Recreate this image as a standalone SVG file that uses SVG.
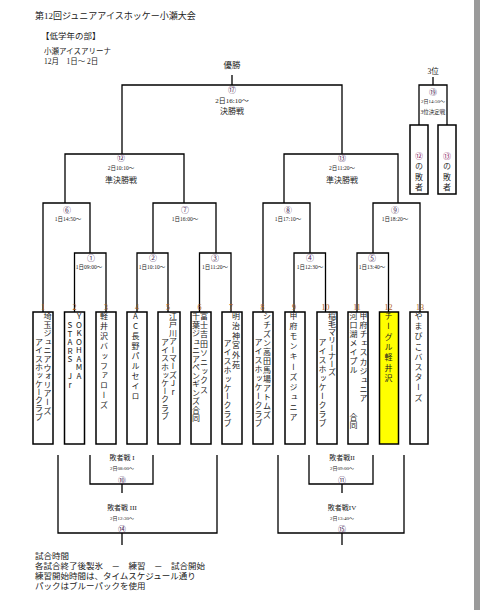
<svg xmlns="http://www.w3.org/2000/svg" width="480" height="610" viewBox="0 0 480 610">
<defs>
<style>
text{font-family:"Liberation Serif","Noto Sans CJK JP",serif;fill:#222}
.c{text-anchor:middle;dominant-baseline:central}
.t{font-size:5.5px}
.n{font-family:"Noto Sans CJK JP",sans-serif;font-size:8px;fill:#4a2a5a}
.lb{font-size:8px}
.num{font-size:8px;fill:#b0601a;text-anchor:middle;dominant-baseline:central}
.v{font-family:"Noto Sans CJK JP","Liberation Serif",sans-serif;font-size:8px;writing-mode:vertical-rl;text-orientation:upright;fill:#222}
.box{fill:#fff;stroke:#000;stroke-width:1.5}
.ln{fill:none;stroke:#000;stroke-width:1.3}
</style>
</defs>
<rect x="0" y="0" width="480" height="610" fill="#fff"/>
<rect x="474" y="0" width="6" height="610" fill="#9a9a9a"/>

<g id="header">
<text x="35" y="16" style="font-size:9px" dominant-baseline="central">第12回ジュニアアイスホッケー小瀬大会</text>
<text x="41" y="36" style="font-size:8.5px" dominant-baseline="central">【低学年の部】</text>
<text x="44" y="51" style="font-size:7.5px" dominant-baseline="central">小瀬アイスアリーナ</text>
<text x="44" y="61" style="font-size:7.5px" dominant-baseline="central">12月　1日～ 2日</text>
<text x="232" y="65" class="c" style="font-size:8.5px">優勝</text>
<text x="433" y="71" class="c" style="font-size:7.5px">3位</text>
</g>

<g id="connectors" class="ln">
<path d="M232,75V85M122,154V85H342V154"/>
<path d="M65,203V154H184V203"/>
<path d="M284,203V154H398V203"/>
<path d="M43,312V203H90V253"/>
<path d="M153,253V203H216V253"/>
<path d="M263,312V203H310V253"/>
<path d="M373,253V203H420V312"/>
<path d="M74.5,312V253H106V312"/>
<path d="M137,312V253H168V312"/>
<path d="M199.5,312V253H231V312"/>
<path d="M294,312V253H325.5V312"/>
<path d="M357,312V253H388.5V312"/>
<path d="M433,77V85M419,125V85H447V125"/>
<path d="M58,455V533H217V455"/>
<path d="M90,455V484H153V455"/>
<path d="M122,484V493M122,533V545"/>
<path d="M278,455V533H404V455"/>
<path d="M309,455V484H373V455"/>
<path d="M342,484V493M342,533V545"/>
</g>

<g id="match17">
<text x="232" y="89" class="c n">⑰</text>
<text x="232" y="101" class="c" style="font-size:7px">2日16:10～</text>
<text x="232" y="111" class="c lb">決勝戦</text>
</g>
<g id="match19">
<text x="433" y="91" class="c n">⑲</text>
<text x="433" y="101" class="c" style="font-size:5px">2日14:50～</text>
<text x="433" y="112" class="c" style="font-size:5.5px">3位決定戦</text>
</g>
<g id="match12">
<text x="121" y="157" class="c n">⑫</text>
<text x="121" y="168" class="c t">2日10:10～</text>
<text x="121" y="180" class="c lb">準決勝戦</text>
</g>
<g id="match13">
<text x="342" y="157" class="c n">⑬</text>
<text x="342" y="168" class="c t">2日11:20～</text>
<text x="342" y="180" class="c lb">準決勝戦</text>
</g>
<g id="match6"><text x="67" y="209" class="c n">⑥</text><text x="68" y="219" class="c t">1日14:50～</text></g>
<g id="match7"><text x="185" y="209" class="c n">⑦</text><text x="185" y="219" class="c t">1日16:00～</text></g>
<g id="match8"><text x="288" y="209" class="c n">⑧</text><text x="288" y="219" class="c t">1日17:10～</text></g>
<g id="match9"><text x="395" y="209" class="c n">⑨</text><text x="395" y="219" class="c t">1日18:20～</text></g>
<g id="match1"><text x="91" y="257" class="c n">①</text><text x="89" y="267" class="c t">1日09:00～</text></g>
<g id="match2"><text x="153" y="257" class="c n">②</text><text x="152" y="267" class="c t">1日10:10～</text></g>
<g id="match3"><text x="215" y="257" class="c n">③</text><text x="215" y="267" class="c t">1日11:20～</text></g>
<g id="match4"><text x="310" y="257" class="c n">④</text><text x="310" y="267" class="c t">1日12:30～</text></g>
<g id="match5"><text x="372" y="257" class="c n">⑤</text><text x="372" y="267" class="c t">1日13:40～</text></g>

<g id="loser12">
<rect x="410" y="125" width="18" height="69" class="box"/>
<text x="419" y="152" class="v" style="letter-spacing:2.3px"><tspan style="fill:#8a2a6a">⑫</tspan>の敗者</text>
</g>
<g id="loser13">
<rect x="438" y="125" width="18" height="69" class="box"/>
<text x="447" y="152" class="v" style="letter-spacing:2.3px"><tspan style="fill:#8a2a6a">⑬</tspan>の敗者</text>
</g>

<g id="team1">
<text x="43" y="307" class="num">1</text>
<rect x="33" y="312" width="20" height="132" class="box"/>
<text x="47.5" y="312" class="v" style="letter-spacing:0.6px">埼玉ジュニアウォリアーズ</text>
<text x="39" y="338" class="v" style="letter-spacing:0.3px">アイスホッケークラブ</text>
</g>
<g id="team2">
<text x="74.5" y="307" class="num">2</text>
<rect x="64.5" y="312" width="20" height="132" class="box"/>
<text x="79" y="312" class="v" style="letter-spacing:0.5px">YOKOHAMA</text>
<text x="70" y="321" class="v" style="letter-spacing:0.5px">STARS Jr</text>
</g>
<g id="team3">
<text x="106" y="307" class="num">3</text>
<rect x="96" y="312" width="20" height="132" class="box"/>
<text x="104" y="312" class="v" style="letter-spacing:1.9px">軽井沢バッファローズ</text>
</g>
<g id="team4">
<text x="137" y="307" class="num">4</text>
<rect x="127" y="312" width="20" height="132" class="box"/>
<text x="135.5" y="312" class="v" style="letter-spacing:2px">AC長野パルセイロ</text>
</g>
<g id="team5">
<text x="168" y="307" class="num">5</text>
<rect x="158" y="312" width="22" height="132" class="box"/>
<text x="173" y="312" class="v" style="letter-spacing:0.4px">江戸川アーマーズJr</text>
<text x="165" y="338" class="v" style="letter-spacing:0.2px">アイスホッケークラブ</text>
</g>
<g id="team6">
<text x="199.5" y="307" class="num">6</text>
<rect x="191" y="312" width="20" height="132" class="box"/>
<text x="204" y="312" class="v" style="letter-spacing:1.2px">富士吉田ソニックス</text>
<text x="196" y="312" class="v" style="letter-spacing:0.5px">千葉ジュニアペンギンズ合同</text>
</g>
<g id="team7">
<text x="231" y="307" class="num">7</text>
<rect x="222" y="312" width="20" height="132" class="box"/>
<text x="236" y="312" class="v" style="letter-spacing:1.8px">明治神宮外苑</text>
<text x="227.5" y="339" class="v" style="letter-spacing:0.9px">アイスホッケークラブ</text>
</g>
<g id="team8">
<text x="262.5" y="307" class="num">8</text>
<rect x="253" y="312" width="20" height="132" class="box"/>
<text x="267" y="312" class="v" style="letter-spacing:1px">シチズン高田馬場アトムズ</text>
<text x="258.5" y="338" class="v" style="letter-spacing:1px">アイスホッケークラブ</text>
</g>
<g id="team9">
<text x="294" y="307" class="num">9</text>
<rect x="285" y="312" width="20" height="132" class="box"/>
<text x="293.5" y="312" class="v" style="letter-spacing:2.1px">甲府モンキーズジュニア</text>
</g>
<g id="team10">
<text x="325.5" y="307" class="num">10</text>
<rect x="317" y="312" width="20" height="132" class="box"/>
<text x="332" y="312" class="v" style="letter-spacing:0px">稲毛マリーナーズ</text>
<text x="322.5" y="338" class="v" style="letter-spacing:1px">アイスホッケークラブ</text>
</g>
<g id="team11">
<text x="357" y="307" class="num">11</text>
<rect x="348" y="312" width="20" height="132" class="box"/>
<text x="363.5" y="312" class="v" style="letter-spacing:1.1px">甲府チェスカジュニア</text>
<text x="353.5" y="312" class="v" style="letter-spacing:1px">河口湖メイプル</text>
<text x="353.5" y="413" class="v" style="letter-spacing:0px">合同</text>
</g>
<g id="team12">
<text x="388.5" y="307" class="num">12</text>
<rect x="379.5" y="312" width="19" height="132" class="box" style="fill:#ffff00"/>
<text x="388.5" y="312" class="v" style="letter-spacing:2.3px">チーグル軽井沢</text>
</g>
<g id="team13">
<text x="420" y="307" class="num">13</text>
<rect x="410" y="312" width="18" height="132" class="box"/>
<text x="418.5" y="312" class="v" style="letter-spacing:2.2px">やまびこバスターズ</text>
</g>

<g id="match10">
<text x="122" y="458" class="c" style="font-size:7px">敗者戦 I</text>
<text x="122" y="468" class="c" style="font-size:5px">2日08:00～</text>
<text x="122" y="479" class="c n">⑩</text>
</g>
<g id="match14">
<text x="122" y="508" class="c" style="font-size:7px">敗者戦 III</text>
<text x="122" y="518" class="c" style="font-size:5px">2日12:30～</text>
<text x="122" y="528" class="c n">⑭</text>
</g>
<g id="match11">
<text x="342" y="458" class="c" style="font-size:7px">敗者戦II</text>
<text x="342" y="468" class="c" style="font-size:5px">2日09:00～</text>
<text x="342" y="479" class="c n">⑪</text>
</g>
<g id="match15">
<text x="342" y="508" class="c" style="font-size:7px">敗者戦IV</text>
<text x="342" y="518" class="c" style="font-size:5px">2日13:40～</text>
<text x="342" y="528" class="c n">⑮</text>
</g>

<g id="footer" style="font-size:8.5px">
<text x="35" y="556" dominant-baseline="central">試合時間</text>
<text x="35" y="566" dominant-baseline="central">各試合終了後製氷　－　練習　－　試合開始</text>
<text x="35" y="576" dominant-baseline="central">練習開始時間は、タイムスケジュール通り</text>
<text x="35" y="586" dominant-baseline="central">パックはブルーパックを使用</text>
</g>
</svg>
